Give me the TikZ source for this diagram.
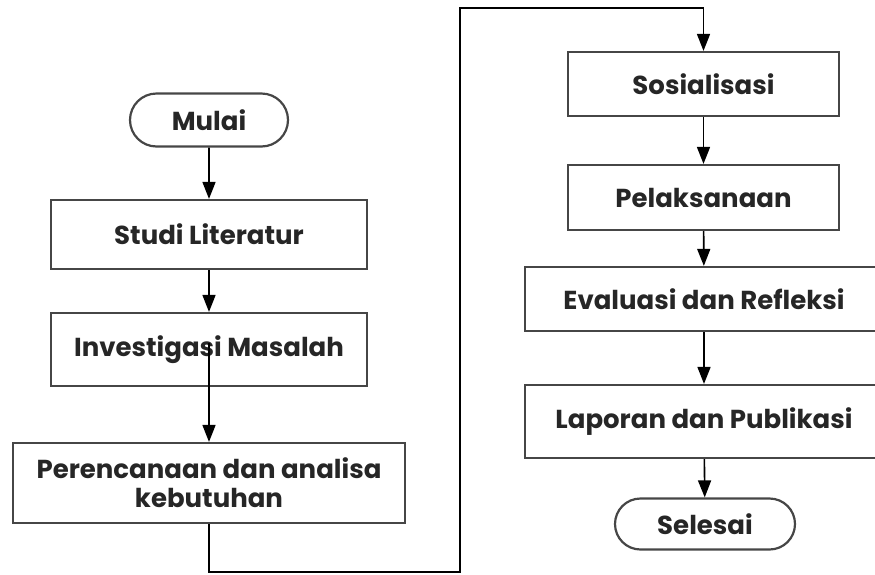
\documentclass[tikz,border=0pt]{standalone}
\usepackage{fontspec}
\setmainfont{Poppins}
\usetikzlibrary{arrows.meta,shapes.misc}
\definecolor{edgeCol}{RGB}{70,70,70}
\tikzset{
  stepbox/.style={draw=edgeCol,line width=2.2pt,align=center,inner sep=0pt,
                  font=\fontsize{26}{29}\selectfont\bfseries,text=black!85},
  termbox/.style={stepbox,rounded rectangle},
  flow/.style={-{Triangle[length=17pt,width=13pt]},line width=1.6pt},
}
\begin{document}
\begin{tikzpicture}[x=1pt,y=-1pt]
    \useasboundingbox (0,0) rectangle (875,574);
    \clip (0,0) rectangle (875,574);
    % --- left column ---
    \node[termbox,minimum width=158pt,minimum height=53pt] (mulai) at (209,120) {Mulai};
    \node[stepbox,minimum width=316pt,minimum height=69pt] (studi) at (209,234.5) {Studi Literatur};
    \node[stepbox,minimum width=316pt,minimum height=73pt] (invest) at (209,349.5) {Investigasi Masalah};
    \node[stepbox,minimum width=392pt,minimum height=80pt] (rencana) at (209,483)
        {Perencanaan dan analisa\\kebutuhan};
    % --- right column ---
    \node[stepbox,minimum width=271pt,minimum height=64pt] (sosial) at (703.5,84) {Sosialisasi};
    \node[stepbox,minimum width=271pt,minimum height=65pt] (laksana) at (703.5,197.5) {Pelaksanaan};
    \node[stepbox,minimum width=358pt,minimum height=64pt] (evaluasi) at (704,299) {Evaluasi dan Refleksi};
    \node[stepbox,minimum width=358pt,minimum height=73pt] (laporan) at (704,421.5) {Laporan dan Publikasi};
    \node[termbox,minimum width=180pt,minimum height=51pt] (selesai) at (705,524) {Selesai};
    % --- connectors ---
    \coordinate (instub) at (209,343);
    \coordinate (bawah) at (209,572);
    \coordinate (atas) at (460,8);
    \draw[flow] (mulai) -- (studi);
    \draw[flow] (studi) -- (invest);
    \draw[flow] (instub) -- (rencana.north);
    \draw[flow] (rencana.south) -- (bawah) -| (atas) -| (sosial.north);
    \draw[flow] (sosial) -- (laksana);
    \draw[flow] (laksana) -- (evaluasi);
    \draw[flow] (evaluasi) -- (laporan);
    \draw[flow] (laporan) -- (selesai);
\end{tikzpicture}
\end{document}
